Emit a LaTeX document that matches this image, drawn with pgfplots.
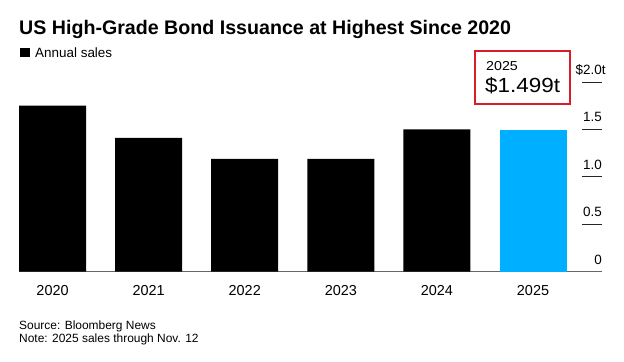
\documentclass[border=0pt]{standalone}
\usepackage{fontspec}
\setmainfont{Liberation Sans}
\newfontfamily\widefont[FakeStretch=1.1]{Liberation Sans}
\usepackage{pgfplots}
\pgfplotsset{compat=1.18}
\definecolor{barblue}{RGB}{0,175,255}
\definecolor{boxred}{RGB}{215,30,40}
\begin{document}
\begin{tikzpicture}[x=1bp,y=1bp]
\fill[white] (0,0) rectangle (624,361);
\useasboundingbox (0,0) rectangle (624,361);
\node[anchor=base west, inner sep=0, font=\fontsize{19.7}{22}\selectfont\bfseries] at (19,327) {US High-Grade Bond Issuance at Highest Since 2020};
\fill[black] (19.5,304) rectangle (29.5,313.5);
\node[anchor=base west, inner sep=0, font=\fontsize{13.5}{16}\selectfont] at (35,303.7) {Annual sales};
\node[anchor=base west, inner sep=0, font=\fontsize{12}{14}\selectfont] at (19,31.7) {Source: Bloomberg News};
\node[anchor=base west, inner sep=0, font=\fontsize{12}{14}\selectfont] at (19,18.3) {Note: 2025 sales through Nov. 12};
\begin{axis}[
  at={(19bp,89.3bp)}, anchor=south west,
  scale only axis, width=583bp, height=189.7bp,
  xmin=-0.349, xmax=5.718, ymin=0, ymax=2,
  clip=false,
  axis x line*=bottom, axis y line*=right,
  y axis line style={draw=none},
  x axis line style={draw=black!60, line width=1bp},
  xtick={0,1,2,3,4,5},
  xticklabels={2020,2021,2022,2023,2024,2025},
  x tick style={draw=none},
  xticklabel style={font=\fontsize{14.5}{16}\selectfont, inner sep=0pt, anchor=north, yshift=6bp},
  ytick={0,0.5,1,1.5,2},
  yticklabels={},
  y tick style={draw=black!85, line width=0.8bp},
  tick align=inside,
  major tick length=20bp,
  ybar, bar width=67bp, bar shift=0pt,
]
\addplot[fill=black, draw=none] coordinates {(0,1.75) (1,1.41) (2,1.19) (3,1.19) (4,1.50)};
\addplot[fill=barblue, draw=none] coordinates {(5,1.499)};
\node[anchor=base east, inner sep=0, yshift=7.7bp, font=\fontsize{13.5}{16}\selectfont] at (axis cs:5.718,0) {0};
\node[anchor=base east, inner sep=0, yshift=7.7bp, font=\fontsize{13.5}{16}\selectfont] at (axis cs:5.718,0.5) {0.5};
\node[anchor=base east, inner sep=0, yshift=7.7bp, font=\fontsize{13.5}{16}\selectfont] at (axis cs:5.718,1) {1.0};
\node[anchor=base east, inner sep=0, yshift=7.7bp, font=\fontsize{13.5}{16}\selectfont] at (axis cs:5.718,1.5) {1.5};
\node[anchor=base east, inner sep=0, yshift=7.7bp, font=\fontsize{13.5}{16}\selectfont] at (axis cs:5.718,2) {\$2.0\rlap{t}};
\end{axis}
\draw[boxred, line width=2bp] (475,257) rectangle (570,310.3);
\node[anchor=base west, inner sep=0, font=\widefont\fontsize{13}{15}\selectfont] at (486,290.3) {2025};
\node[anchor=base west, inner sep=0, font=\widefont\fontsize{20.5}{22}\selectfont] at (485,268.3) {\$1.499t};
\end{tikzpicture}
\end{document}
